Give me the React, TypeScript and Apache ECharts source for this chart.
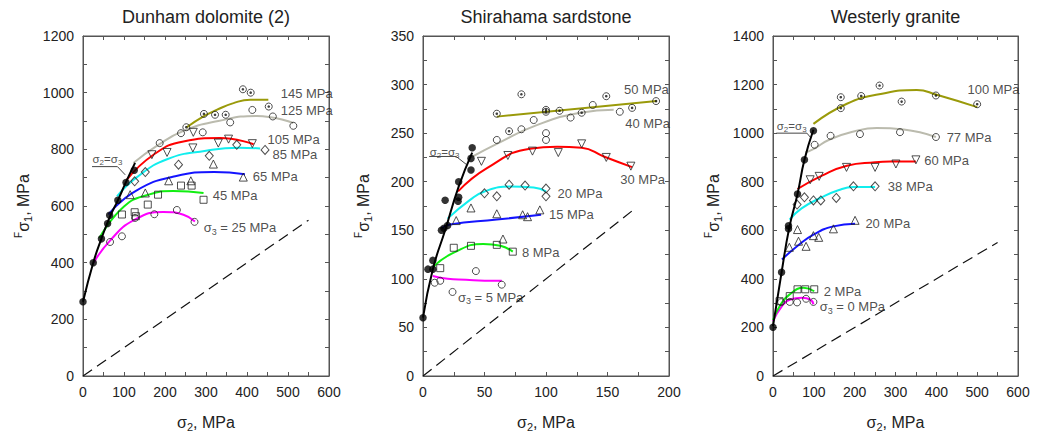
import { useEffect, useRef } from "react";
import * as echarts from "echarts";

type Pt = [number, number];

// ================= Dunham dolomite (2) =================
const dunhamFailure: Pt[] = [[0, 262], [25, 400], [45, 485], [65, 560], [85, 620], [105, 685], [127, 752]];
const dunhamFailurePts: Pt[] = [[0, 262], [25, 400], [45, 484], [60, 538], [65, 567], [85, 620], [105, 683], [125, 726]];
const dunhamFit25: Pt[] = [[26, 400], [66, 478], [123, 549], [196, 579], [245, 569], [273, 545]];
const dunhamFit45: Pt[] = [[40, 487], [100, 598], [160, 640], [220, 653], [294, 646]];
const dunhamFit65: Pt[] = [[62, 570], [127, 652], [225, 705], [320, 720], [395, 712]];
const dunhamFit85: Pt[] = [[83, 634], [130, 700], [205, 765], [300, 795], [380, 806], [432, 803]];
const dunhamFit105: Pt[] = [[107, 693], [172, 781], [245, 828], [334, 840], [416, 818]];
const dunhamFit125: Pt[] = [[123, 752], [180, 812], [245, 865], [330, 900], [424, 918], [513, 893]];
const dunhamFit145: Pt[] = [[253, 878], [294, 916], [326, 939], [367, 963], [408, 975], [452, 975]];
const dunhamPts25: Pt[] = [[66, 473], [95, 493], [127, 558], [174, 571], [229, 586], [272, 544]];
const dunhamPts45: Pt[] = [[95, 570], [126, 578], [129, 564], [158, 605], [183, 640], [239, 672], [265, 672], [294, 622]];
const dunhamPts65: Pt[] = [[115, 640], [152, 646], [209, 689], [263, 689], [318, 748], [391, 702]];
const dunhamPts85: Pt[] = [[126, 687], [152, 720], [233, 746], [308, 777], [375, 816], [444, 798]];
const dunhamPts105: Pt[] = [[168, 781], [205, 789], [268, 805], [269, 860], [330, 822], [355, 836], [413, 820]];
const dunhamPts125: Pt[] = [[187, 822], [239, 857], [292, 860], [359, 895], [413, 939], [463, 916], [513, 883]];
const dunhamPts145: Pt[] = [[252, 878], [295, 925], [322, 922], [348, 922], [390, 1012], [409, 1000], [453, 951]];
const dunhamDiagonal: Pt[] = [[0, 0], [550, 550]];
const dunhamLeader: Pt[] = [[22, 739], [84, 739], [103, 710]];
const dunhamLabels = ["σ3 = 25 MPa", "45 MPa", "65 MPa", "85 MPa", "105 MPa", "125 MPa", "145 MPa"];
const dunhamLabelAt: Pt[] = [[293, 524], [315, 637], [413, 704], [461, 781], [449, 834], [481, 936], [481, 996]];
const dunhamEqualAt: Pt = [22, 767];

// ================= Shirahama sardstone =================
const shiraFailure: Pt[] = [[0, 60], [8, 110], [18, 150], [29, 195], [40, 230]];
const shiraFailurePts: Pt[] = [[0, 60], [4, 110], [8, 110], [8, 119], [15, 150], [17, 152], [20, 155], [18, 181], [28.5, 180], [29, 184], [29, 200], [39, 212], [39, 224], [40, 235]];
const shiraFit5: Pt[] = [[8, 103], [20, 100], [35, 99], [50, 98], [64, 98]];
const shiraFit8: Pt[] = [[8, 112], [25, 127], [49, 136], [63, 134], [73, 128]];
const shiraFit15: Pt[] = [[15, 152], [22, 156], [60, 161], [96, 166]];
const shiraFit20: Pt[] = [[20, 162], [38, 181], [50, 190], [71, 195], [90, 194], [100, 190]];
const shiraFit30: Pt[] = [[28.5, 190], [52, 214], [87, 234], [109, 236], [129, 235], [147, 226], [170, 215]];
const shiraFit40: Pt[] = [[39, 225], [60, 239], [92, 258], [128, 271], [155, 274]];
const shiraFit50: Pt[] = [[60, 267], [190, 283]];
const shiraPts5: Pt[] = [[9.5, 96], [14, 98], [24, 86.5], [43, 108], [64, 94]];
const shiraPts8: Pt[] = [[14, 111], [25, 132], [39, 134], [60, 135], [73, 128]];
const shiraPts15: Pt[] = [[27, 160], [39, 173], [60, 167], [65, 141], [81, 166], [85, 164], [95, 171]];
const shiraPts20: Pt[] = [[50, 188], [60, 185], [70, 197], [83, 196], [100, 193], [100, 185]];
const shiraPts30: Pt[] = [[47.5, 221], [69, 227], [89, 231.5], [110, 230], [129, 239], [149, 225], [169, 216]];
const shiraPts40: Pt[] = [[60, 243], [80, 254], [90, 263.5], [100, 250], [100, 243], [120, 266], [138, 279], [160, 272]];
const shiraPts50: Pt[] = [[60, 270], [70, 252], [80, 290], [100, 272], [100, 274], [111, 273], [129, 271], [149, 288], [170, 276], [189.5, 283]];
const shiraDiagonal: Pt[] = [[0, 0], [173, 173]];
const shiraLeader: Pt[] = [[5, 226], [27, 226], [35, 218]];
const shiraLabels = ["σ3 = 5 MPa", "8 MPa", "15 MPa", "20 MPa", "30 MPa", "40 MPa", "50 MPa"];
const shiraLabelAt: Pt[] = [[28, 81], [80, 127], [102, 166], [109, 188], [160, 202], [164, 260], [163, 295]];
const shiraEqualAt: Pt = [5, 231];

// ================= Westerly granite =================
const westFailure: Pt[] = [[0, 205], [21, 427], [40, 612], [60, 749], [77, 890], [99, 1014]];
const westFailurePts: Pt[] = [[0, 201], [21, 427], [38, 606], [38, 619], [60, 749], [77, 890], [99, 1010]];
const westFit0: Pt[] = [[0, 226], [22, 288], [42, 315], [71, 322], [91, 315], [99, 295]];
const westFit2: Pt[] = [[0, 230], [18, 292], [38, 332], [75, 363], [101, 349]];
const westFit20: Pt[] = [[22, 480], [59, 534], [99, 582], [148, 616], [201, 627]];
const westFit38: Pt[] = [[40.6, 644], [70, 690], [116, 733], [160, 765], [197, 778], [250, 778]];
const westFit60: Pt[] = [[60, 770], [120, 825], [181, 866], [250, 880], [287, 883], [350, 883]];
const westFit77: Pt[] = [[79, 920], [100, 935], [140, 975], [200, 1008], [254, 1021], [320, 1015], [399, 984]];
const westFit100: Pt[] = [[99, 1038], [181, 1121], [260, 1160], [352, 1178], [401, 1158], [500, 1107]];
const westPts0: Pt[] = [[20, 304], [41, 305], [59, 303], [81, 318], [99, 305]];
const westPts2: Pt[] = [[16, 308], [41, 329], [60, 357], [79, 357], [101, 357]];
const westPts20: Pt[] = [[40, 530], [60, 603], [62.5, 555], [81, 534], [99, 578], [112, 571], [148, 606], [201, 641]];
const westPts38: Pt[] = [[59, 706], [77, 736], [99, 723], [117, 723], [155, 733], [197, 781], [250, 781]];
const westPts60: Pt[] = [[91, 808], [113, 822], [180, 859], [250, 859], [301, 873], [350, 890]];
const westPts77: Pt[] = [[102, 952], [141, 989], [213, 996], [311, 1004], [399, 984]];
const westPts100: Pt[] = [[166, 1103], [166, 1148], [216, 1153], [261, 1196], [315, 1130], [399, 1155], [500, 1119]];
const westDiagonal: Pt[] = [[0, 0], [550, 550]];
const westLeader: Pt[] = [[8, 1000], [83, 1000], [91, 984]];
const westLabels = ["σ3 = 0 MPa", "2 MPa", "20 MPa", "38 MPa", "60 MPa", "77 MPa", "100 MPa"];
const westLabelAt: Pt[] = [[113, 286], [123, 348], [225, 627], [280, 780], [369, 886], [424, 981], [475, 1178]];
const westEqualAt: Pt = [8, 1030];

const titles = ["Dunham dolomite (2)", "Shirahama sardstone", "Westerly granite"];
const equalText = "σ2=σ3";

// ================= styling =================
const FONT = "'Liberation Sans', Arial, Helvetica, sans-serif";
const COLORS = ["#ff00ff", "#11ee11", "#1414ff", "#11eeee", "#ff0000", "#bbbbae", "#9a9a0a"];
const KINDS = ["circle", "square", "triangle", "diamond", "invTriangle", "circle", "dotCircle"];

type Panel = {
  grid: { left: number; top: number; width: number; height: number };
  xMax: number; xInt: number; yMax: number; yInt: number;
  failure: Pt[]; failurePts: Pt[]; fits: Pt[][]; pts: Pt[][];
  diagonal: Pt[]; leader: Pt[]; labels: string[]; labelAt: Pt[]; equalAt: Pt;
};

const panels: Panel[] = [
  {
    grid: { left: 83, top: 36, width: 246, height: 341 },
    xMax: 600, xInt: 100, yMax: 1200, yInt: 200,
    failure: dunhamFailure, failurePts: dunhamFailurePts,
    fits: [dunhamFit25, dunhamFit45, dunhamFit65, dunhamFit85, dunhamFit105, dunhamFit125, dunhamFit145],
    pts: [dunhamPts25, dunhamPts45, dunhamPts65, dunhamPts85, dunhamPts105, dunhamPts125, dunhamPts145],
    diagonal: dunhamDiagonal, leader: dunhamLeader, labels: dunhamLabels, labelAt: dunhamLabelAt, equalAt: dunhamEqualAt,
  },
  {
    grid: { left: 423, top: 36, width: 246, height: 340 },
    xMax: 200, xInt: 50, yMax: 350, yInt: 50,
    failure: shiraFailure, failurePts: shiraFailurePts,
    fits: [shiraFit5, shiraFit8, shiraFit15, shiraFit20, shiraFit30, shiraFit40, shiraFit50],
    pts: [shiraPts5, shiraPts8, shiraPts15, shiraPts20, shiraPts30, shiraPts40, shiraPts50],
    diagonal: shiraDiagonal, leader: shiraLeader, labels: shiraLabels, labelAt: shiraLabelAt, equalAt: shiraEqualAt,
  },
  {
    grid: { left: 773, top: 36, width: 245, height: 341 },
    xMax: 600, xInt: 100, yMax: 1400, yInt: 200,
    failure: westFailure, failurePts: westFailurePts,
    fits: [westFit0, westFit2, westFit20, westFit38, westFit60, westFit77, westFit100],
    pts: [westPts0, westPts2, westPts20, westPts38, westPts60, westPts77, westPts100],
    diagonal: westDiagonal, leader: westLeader, labels: westLabels, labelAt: westLabelAt, equalAt: westEqualAt,
  },
];

const AX = "#555";
const TXT = "#222";

function subRich(size: number) {
  return {
    n: { fontSize: size, fontFamily: FONT, color: TXT, lineHeight: size + 4 },
    sub: { fontSize: Math.round(size * 0.68), fontFamily: FONT, color: TXT, lineHeight: Math.round(size * 0.68), verticalAlign: "bottom" },
    sup: { fontSize: Math.round(size * 0.62), fontFamily: FONT, color: TXT, lineHeight: Math.round(size * 0.62), verticalAlign: "top" },
  };
}

function richify(s: string) {
  let out = "";
  let buf = "";
  for (let i = 0; i < s.length; i++) {
    const c = s[i];
    if (c === "σ" && /\d/.test(s[i + 1] || "")) {
      buf += "σ";
      out += `{n|${buf}}{sub|${s[i + 1]}}`;
      buf = "";
      i++;
    } else buf += c;
  }
  if (buf) out += `{n|${buf}}`;
  return out;
}

function axis(kind: "x" | "y", gi: number, max: number, interval: number, main: boolean) {
  const base: any = {
    type: "value",
    gridIndex: gi,
    min: 0,
    max,
    interval,
    position: kind === "x" ? (main ? "bottom" : "top") : main ? "left" : "right",
    axisLine: { show: true, onZero: false, lineStyle: { color: AX, width: 1 } },
    axisTick: { show: true, inside: true, length: 4, lineStyle: { color: AX } },
    minorTick: { show: true, splitNumber: 2, length: 4, lineStyle: { color: AX } },
    splitLine: { show: false },
    axisLabel: main
      ? { show: true, fontSize: 14, color: TXT, fontFamily: FONT, margin: 9, formatter: (v: number) => String(v) }
      : { show: false },
  };
  if (main && kind === "x") {
    base.name = "{n|σ}{sub|2}{n|, MPa}";
    base.nameLocation = "middle";
    base.nameGap = 36;
    base.nameTextStyle = { rich: subRich(16) };
  }
  if (main && kind === "y") {
    base.name = "{sup|F}{n|σ}{sub|1}{n|, MPa}";
    base.nameLocation = "middle";
    base.nameGap = 50;
    base.nameTextStyle = { rich: subRich(16) };
  }
  return base;
}

function markerStyle(kind: string) {
  const hollow = { color: "rgba(0,0,0,0)", borderColor: "#222", borderWidth: 1 };
  switch (kind) {
    case "square":
      return { symbol: "rect", symbolSize: 7, itemStyle: hollow };
    case "triangle":
      return { symbol: "triangle", symbolSize: 8, itemStyle: hollow };
    case "invTriangle":
      return { symbol: "triangle", symbolSize: 8, symbolRotate: 180, itemStyle: hollow };
    case "diamond":
      return { symbol: "diamond", symbolSize: [8, 9], itemStyle: hollow };
    default:
      return { symbol: "circle", symbolSize: 7, itemStyle: hollow };
  }
}

function buildOption() {
  const grid: any[] = [];
  const xAxis: any[] = [];
  const yAxis: any[] = [];
  const series: any[] = [];
  const graphic: any[] = [];

  panels.forEach((p, gi) => {
    grid.push({ ...p.grid, containLabel: false, show: true, borderColor: AX, borderWidth: 1, backgroundColor: "rgba(0,0,0,0)" });
    xAxis.push(axis("x", gi, p.xMax, p.xInt, true));
    xAxis.push(axis("x", gi, p.xMax, p.xInt, false));
    yAxis.push(axis("y", gi, p.yMax, p.yInt, true));
    yAxis.push(axis("y", gi, p.yMax, p.yInt, false));
    const xi = gi * 2;
    const yi = gi * 2;
    const common = { xAxisIndex: xi, yAxisIndex: yi, silent: true };

    // dummy series so the frame axes (top / right) are used
    series.push({ type: "line", xAxisIndex: xi + 1, yAxisIndex: yi + 1, data: [], silent: true });

    series.push({
      ...common, type: "line", data: p.diagonal, showSymbol: false,
      lineStyle: { color: "#111", width: 1.2, type: [11, 6] },
    });
    p.fits.forEach((d, k) => {
      series.push({
        ...common, type: "line", data: d, smooth: true, showSymbol: false,
        lineStyle: { color: COLORS[k], width: 2 }, z: 3,
      });
    });
    series.push({
      ...common, type: "line", data: p.leader, showSymbol: false,
      lineStyle: { color: "#444", width: 1 },
    });
    p.pts.forEach((d, k) => {
      const kind = KINDS[k];
      series.push({ ...common, type: "scatter", data: d, z: 4, ...markerStyle(kind) });
      if (kind === "dotCircle") {
        series.push({
          ...common, type: "scatter", data: d, z: 5, symbol: "circle", symbolSize: 2.6,
          itemStyle: { color: "#111" },
        });
      }
    });
    series.push({
      ...common, type: "line", data: p.failure, smooth: true, showSymbol: false,
      lineStyle: { color: "#000", width: 2 }, z: 6,
    });
    series.push({
      ...common, type: "scatter", data: p.failurePts, symbol: "circle", symbolSize: 7.5,
      itemStyle: { color: "#000" }, z: 7,
    });
    series.push({
      ...common, type: "scatter", symbolSize: 1, itemStyle: { color: "rgba(0,0,0,0)" }, z: 8,
      data: p.labelAt.map((v, k) => ({
        value: v,
        label: { formatter: richify(p.labels[k]) },
      })),
      label: { show: true, position: "right", distance: 0, rich: subRich(13) },
    });
    series.push({
      ...common, type: "scatter", symbolSize: 1, itemStyle: { color: "rgba(0,0,0,0)" }, z: 8,
      data: [{ value: p.equalAt, label: { formatter: richify(equalText) } }],
      label: { show: true, position: "right", distance: 0, rich: subRich(11.5) },
    });

    graphic.push({
      type: "text",
      x: p.grid.left + p.grid.width / 2,
      y: 17,
      style: {
        text: titles[gi],
        fontSize: 18,
        fontFamily: FONT,
        fill: TXT,
        align: "center",
        verticalAlign: "middle",
        textAlign: "center",
        textVerticalAlign: "middle",
      },
    });
  });

  return { animation: false, grid, xAxis, yAxis, series, graphic };
}

export default function App() {
  const ref = useRef<HTMLDivElement>(null);
  useEffect(() => {
    if (!ref.current) return;
    const chart = echarts.init(ref.current, null, { renderer: "svg" });
    chart.setOption(buildOption() as any);
    return () => chart.dispose();
  }, []);
  return (
    <div
      ref={ref}
      style={{ position: "fixed", left: 0, top: 0, width: 1040, height: 437, background: "#fff" }}
    />
  );
}
